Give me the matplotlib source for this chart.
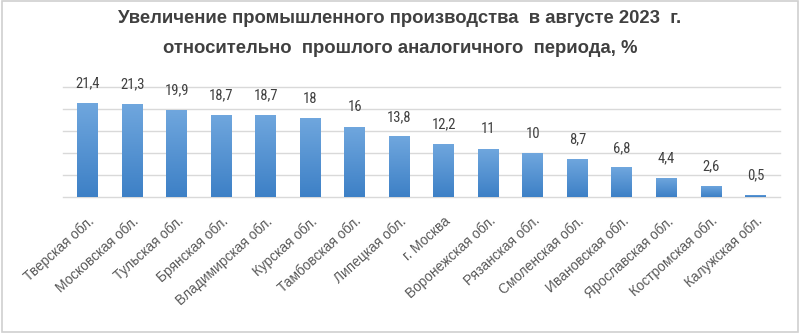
import numpy as np
import matplotlib.pyplot as plt
from matplotlib import font_manager
from matplotlib.colors import LinearSegmentedColormap
from matplotlib.patches import Rectangle

# --- data ---
regions = ["Тверская обл.", "Московская обл.", "Тульская обл.", "Брянская обл.",
           "Владимирская обл.", "Курская обл.", "Тамбовская обл.", "Липецкая обл.",
           "г. Москва", "Воронежская обл.", "Рязанская обл.", "Смоленская обл.",
           "Ивановская обл.", "Ярославская обл.", "Костромская обл.", "Калужская обл."]
growth = [21.4, 21.3, 19.9, 18.7, 18.7, 18, 16, 13.8, 12.2, 11, 10, 8.7, 6.8, 4.4, 2.6, 0.5]
value_labels = ["21,4", "21,3", "19,9", "18,7", "18,7", "18", "16", "13,8",
                "12,2", "11", "10", "8,7", "6,8", "4,4", "2,6", "0,5"]
grid_levels = [0, 5, 10, 15, 20, 25]

title = ("Увеличение промышленного производства  в августе 2023  г.\n"
         "относительно  прошлого аналогичного  периода, %")

# narrow face for the value labels if one is available
names = {f.name for f in font_manager.fontManager.ttflist}
narrow = [n for n in ["Liberation Sans Narrow", "DejaVu Sans Condensed",
                      "Roboto Condensed", "Open Sans Condensed"] if n in names]
label_font = narrow[0] if narrow else "Liberation Sans"

plt.rcParams['font.family'] = ['Liberation Sans', 'DejaVu Sans']

fig = plt.figure(figsize=(8, 3.33), dpi=100)
fig.patch.set_facecolor("white")
# thin grey frame round the chart
fig.add_artist(Rectangle((0.002, 0.003), 0.995, 0.994, transform=fig.transFigure,
                         fill=False, edgecolor="#d0d0d0", linewidth=1.2))

ax = fig.add_axes([0.079, 0.408, 0.896, 0.33])
x = np.arange(len(regions))
bars = ax.bar(x, growth, width=0.47, color="#5b9bd5", zorder=2)

# vertical gradient inside each bar (light at top, darker at bottom)
cmap = LinearSegmentedColormap.from_list("bar", ["#3d80c6", "#70a7de"])
grad = np.linspace(0, 1, 256).reshape(-1, 1)
for b in bars:
    x0, w, h = b.get_x(), b.get_width(), b.get_height()
    im = ax.imshow(grad, cmap=cmap, aspect="auto", origin="lower",
                   extent=(x0, x0 + w, 0, h), zorder=3)
    im.set_clip_path(b)

for xi, v, lab in zip(x, growth, value_labels):
    ax.text(xi, v + 2.8, lab, ha="center", va="bottom", fontsize=10.5,
            color="#404040", family=label_font)

for g in grid_levels:
    ax.axhline(g, color="#d9d9d9", linewidth=1, zorder=1, clip_on=False)

ax.set_xlim(-0.55, len(regions) - 0.45)
ax.set_ylim(0, 25)
ax.set_yticks([])
ax.set_xticks(x)
ax.set_xticklabels(regions, rotation=42, ha="right", rotation_mode="anchor",
                   fontsize=9.8, color="#595959")
ax.tick_params(axis="x", length=0, pad=12)
for s in ax.spines.values():
    s.set_visible(False)

t = fig.text(0.5, 0.97, title, ha="center", va="top", fontsize=11.5,
             fontweight="bold", color="#404040", linespacing=2.0)
# size the title so its first line spans about 565 px
fig.canvas.draw()
w = t.get_window_extent().width
t.set_fontsize(11.5 * 565 / w)

fig.savefig("out.png", dpi=100, facecolor="white")
